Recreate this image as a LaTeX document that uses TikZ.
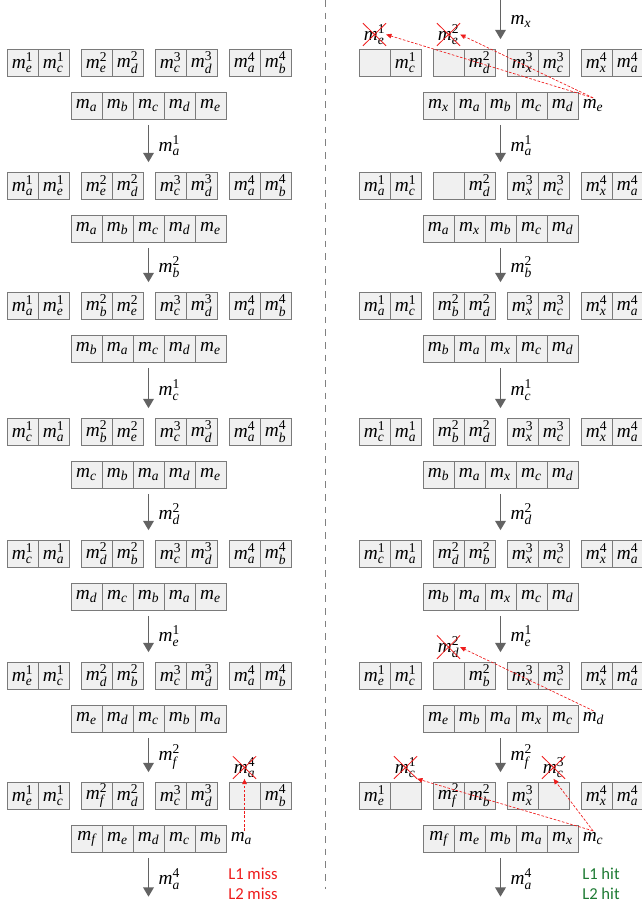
\documentclass[tikz,border=0pt]{standalone}
\usepackage{amsmath}
\usepackage{fontspec}
\setmainfont{Liberation Serif}
\newfontfamily\calibri{Carlito}
\usetikzlibrary{positioning,arrows.meta}
\definecolor{cellfill}{HTML}{F0F0F0}
\definecolor{cellline}{HTML}{7A7A7A}
\definecolor{flowgray}{HTML}{636363}
\definecolor{evictred}{HTML}{EE1C1C}
\definecolor{hitgreen}{HTML}{1E7B34}
\newcommand{\mk}[2]{$\textit{m}^{\text{#2}}_{\textit{#1}}$}
\newcommand{\mn}[1]{$\textit{m}_{\textit{#1}}$}
% one L1 row: four sets of two ways
\newcommand{\cacheone}[4]{%
  \foreach \entry [count=\i from 0] in {#4} {
    \pgfmathsetmacro{\cx}{#2+22.5+74*floor(\i/2)+31*mod(\i,2)}
    \node[cell] (#1-\i) at (\cx,#3+13.5) {\entry};
  }}
% one L2 row: five ways
\newcommand{\cachetwo}[4]{%
  \foreach \entry [count=\i from 0] in {#4} {
    \node[cell] (#1-\i) at (#2+86.5+31*\i,#3+56.5) {\entry};
  }}
\tikzset{
  cell/.style={draw=cellline, fill=cellfill, line width=0.75pt, minimum width=23.25pt, minimum height=20.25pt, inner sep=0pt},
  flow/.style={-{Triangle[width=8pt,length=7pt]}, draw=flowgray, line width=1.1pt, shorten <=4pt, shorten >=7pt},
  steplabel/.style={pos=0.5, right, inner sep=0pt, xshift=7pt},
  gone/.style={inner sep=0.5pt},
  crossout/.style={draw=evictred, line width=0.6pt},
  evict/.style={-{Triangle[width=3.5pt,length=4pt]}, draw=evictred, dash pattern=on 2pt off 1.2pt, line width=0.5pt},
  outlabel/.style={inner sep=1pt},
  result/.style={anchor=west, inner sep=0pt, font=\calibri\fontsize{12.5}{14}\selectfont},
  sepline/.style={draw=gray, dash pattern=on 5pt off 4.5pt, line width=0.75pt}
}
\begin{document}
\begin{tikzpicture}[x=0.75pt, y=-0.75pt, every node/.style={font=\fontsize{14.5}{16}\selectfont}]
  \useasboundingbox (0,0) rectangle (642,907);

  % left
  \cacheone{la1}{0}{49}{\mk{e}{1},\mk{c}{1},\mk{e}{2},\mk{d}{2},\mk{c}{3},\mk{d}{3},\mk{a}{4},\mk{b}{4}}
  \cachetwo{lb1}{0}{49}{\mn{a},\mn{b},\mn{c},\mn{d},\mn{e}}
  \cacheone{la2}{0}{172}{\mk{a}{1},\mk{e}{1},\mk{e}{2},\mk{d}{2},\mk{c}{3},\mk{d}{3},\mk{a}{4},\mk{b}{4}}
  \cachetwo{lb2}{0}{172}{\mn{a},\mn{b},\mn{c},\mn{d},\mn{e}}
  \cacheone{la3}{0}{292}{\mk{a}{1},\mk{e}{1},\mk{b}{2},\mk{e}{2},\mk{c}{3},\mk{d}{3},\mk{a}{4},\mk{b}{4}}
  \cachetwo{lb3}{0}{292}{\mn{b},\mn{a},\mn{c},\mn{d},\mn{e}}
  \cacheone{la4}{0}{418}{\mk{c}{1},\mk{a}{1},\mk{b}{2},\mk{e}{2},\mk{c}{3},\mk{d}{3},\mk{a}{4},\mk{b}{4}}
  \cachetwo{lb4}{0}{418}{\mn{c},\mn{b},\mn{a},\mn{d},\mn{e}}
  \cacheone{la5}{0}{540}{\mk{c}{1},\mk{a}{1},\mk{d}{2},\mk{b}{2},\mk{c}{3},\mk{d}{3},\mk{a}{4},\mk{b}{4}}
  \cachetwo{lb5}{0}{540}{\mn{d},\mn{c},\mn{b},\mn{a},\mn{e}}
  \cacheone{la6}{0}{662}{\mk{e}{1},\mk{c}{1},\mk{d}{2},\mk{b}{2},\mk{c}{3},\mk{d}{3},\mk{a}{4},\mk{b}{4}}
  \cachetwo{lb6}{0}{662}{\mn{e},\mn{d},\mn{c},\mn{b},\mn{a}}
  \cacheone{la7}{0}{782}{\mk{e}{1},\mk{c}{1},\mk{f}{2},\mk{d}{2},\mk{c}{3},\mk{d}{3},{},\mk{b}{4}}
  \cachetwo{lb7}{0}{782}{\mn{f},\mn{e},\mn{d},\mn{c},\mn{b}}

  \draw[flow] (lb1-2.south) -- (lb1-2.south |- la2-0.north) node[steplabel] {\mk{a}{1}};
  \draw[flow] (lb2-2.south) -- (lb2-2.south |- la3-0.north) node[steplabel] {\mk{b}{2}};
  \draw[flow] (lb3-2.south) -- (lb3-2.south |- la4-0.north) node[steplabel] {\mk{c}{1}};
  \draw[flow] (lb4-2.south) -- (lb4-2.south |- la5-0.north) node[steplabel] {\mk{d}{2}};
  \draw[flow] (lb5-2.south) -- (lb5-2.south |- la6-0.north) node[steplabel] {\mk{e}{1}};
  \draw[flow] (lb6-2.south) -- (lb6-2.south |- la7-0.north) node[steplabel] {\mk{f}{2}};
  \coordinate (lend) at (148.5,906);
  \draw[flow] (lb7-2.south) -- (lend) node[steplabel] {\mk{a}{4}};

  \node[gone, above=2pt of la7-6] (xa4) {\mk{a}{4}};
  \node[outlabel, right=2pt of lb7-4] (ma) {\mn{a}};
  \draw[evict] (xa4.south |- ma.north) -- (xa4.south);
  \node[result, text=evictred] (lmiss1) at (228,874) {L1 miss};
  \node[result, text=evictred] (lmiss2) at (228,894) {L2 miss};

  \coordinate (septop) at (325,0);
  \coordinate (sepbot) at (325,889);
  \draw[sepline] (septop) -- (sepbot);

  % right
  \cacheone{ra1}{352}{49}{{},\mk{c}{1},{},\mk{d}{2},\mk{x}{3},\mk{c}{3},\mk{x}{4},\mk{a}{4}}
  \cachetwo{rb1}{352}{49}{\mn{x},\mn{a},\mn{b},\mn{c},\mn{d}}
  \cacheone{ra2}{352}{172}{\mk{a}{1},\mk{c}{1},{},\mk{d}{2},\mk{x}{3},\mk{c}{3},\mk{x}{4},\mk{a}{4}}
  \cachetwo{rb2}{352}{172}{\mn{a},\mn{x},\mn{b},\mn{c},\mn{d}}
  \cacheone{ra3}{352}{292}{\mk{a}{1},\mk{c}{1},\mk{b}{2},\mk{d}{2},\mk{x}{3},\mk{c}{3},\mk{x}{4},\mk{a}{4}}
  \cachetwo{rb3}{352}{292}{\mn{b},\mn{a},\mn{x},\mn{c},\mn{d}}
  \cacheone{ra4}{352}{418}{\mk{c}{1},\mk{a}{1},\mk{b}{2},\mk{d}{2},\mk{x}{3},\mk{c}{3},\mk{x}{4},\mk{a}{4}}
  \cachetwo{rb4}{352}{418}{\mn{b},\mn{a},\mn{x},\mn{c},\mn{d}}
  \cacheone{ra5}{352}{540}{\mk{c}{1},\mk{a}{1},\mk{d}{2},\mk{b}{2},\mk{x}{3},\mk{c}{3},\mk{x}{4},\mk{a}{4}}
  \cachetwo{rb5}{352}{540}{\mn{b},\mn{a},\mn{x},\mn{c},\mn{d}}
  \cacheone{ra6}{352}{662}{\mk{e}{1},\mk{c}{1},{},\mk{b}{2},\mk{x}{3},\mk{c}{3},\mk{x}{4},\mk{a}{4}}
  \cachetwo{rb6}{352}{662}{\mn{e},\mn{b},\mn{a},\mn{x},\mn{c}}
  \cacheone{ra7}{352}{782}{\mk{e}{1},{},\mk{f}{2},\mk{b}{2},\mk{x}{3},{},\mk{x}{4},\mk{a}{4}}
  \cachetwo{rb7}{352}{782}{\mn{f},\mn{e},\mn{b},\mn{a},\mn{x}}

  \coordinate (rtop) at (500.5,-5);
  \draw[flow] (rtop) -- (rtop |- ra1-0.north) node[steplabel] {\mn{x}};
  \draw[flow] (rb1-2.south) -- (rb1-2.south |- ra2-0.north) node[steplabel] {\mk{a}{1}};
  \draw[flow] (rb2-2.south) -- (rb2-2.south |- ra3-0.north) node[steplabel] {\mk{b}{2}};
  \draw[flow] (rb3-2.south) -- (rb3-2.south |- ra4-0.north) node[steplabel] {\mk{c}{1}};
  \draw[flow] (rb4-2.south) -- (rb4-2.south |- ra5-0.north) node[steplabel] {\mk{d}{2}};
  \draw[flow] (rb5-2.south) -- (rb5-2.south |- ra6-0.north) node[steplabel] {\mk{e}{1}};
  \draw[flow] (rb6-2.south) -- (rb6-2.south |- ra7-0.north) node[steplabel] {\mk{f}{2}};
  \coordinate (rend) at (500.5,906);
  \draw[flow] (rb7-2.south) -- (rend) node[steplabel] {\mk{a}{4}};

  \node[gone, above=2pt of ra1-0] (xe1) {\mk{e}{1}};
  \node[gone, above=2pt of ra1-2] (xe2) {\mk{e}{2}};
  \node[outlabel, right=2pt of rb1-4] (me) {\mn{e}};
  \draw[evict] (me.north) -- (xe1.east);
  \draw[evict] (me.north) -- (xe2.east);

  \node[gone, above=2pt of ra6-2] (xd2) {\mk{d}{2}};
  \node[outlabel, right=2pt of rb6-4] (md) {\mn{d}};
  \draw[evict] (md.north) -- (xd2.east);

  \node[gone, above=2pt of ra7-1] (xc1) {\mk{c}{1}};
  \node[gone, above=2pt of ra7-5] (xc3) {\mk{c}{3}};
  \node[outlabel, right=2pt of rb7-4] (mc) {\mn{c}};
  \draw[evict] (mc.north) -- (xc1.south east);
  \draw[evict] (mc.north) -- (xc3.south);
  \node[result, text=hitgreen] (rhit1) at (582,874) {L1 hit};
  \node[result, text=hitgreen] (rhit2) at (582,894) {L2 hit};

  \foreach \n in {xa4,xe1,xe2,xd2,xc1,xc3}
    \draw[crossout] (\n.north west) -- (\n.south east) (\n.south west) -- (\n.north east);
\end{tikzpicture}
\end{document}
